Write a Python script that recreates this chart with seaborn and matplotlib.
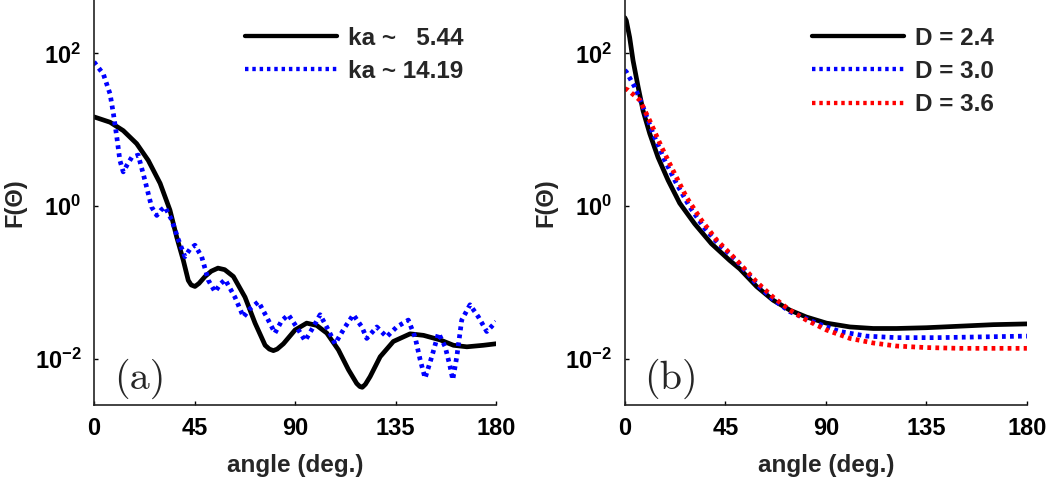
import numpy as np
import pandas as pd
import matplotlib
matplotlib.use("Agg")
import matplotlib.pyplot as plt
import seaborn as sns

# ── Dados (ângulo em graus, log10 de F) ──────────────────────────
# painel (a)
ang_a1 = [0, 7.2, 13.1, 19.1, 24.3, 29.6, 34, 37, 40, 42.2, 43.5, 45.2, 47,
          49.7, 52.5, 55.5, 58.5, 62.4, 67.6, 72.1, 76.6, 78.5, 80.3, 82, 84.8,
          90, 95.2, 99.7, 104.2, 109.4, 113.9, 117.6, 119, 120.1, 121.5,
          123.6, 128.1, 134, 141.5, 147.5, 155, 160.9, 166.9, 174.3, 180]
log_a1 = [1.17, 1.10, 0.99, 0.82, 0.60, 0.30, -0.05, -0.40, -0.71, -0.97,
          -1.03, -1.05, -1.01, -0.92, -0.85, -0.81, -0.83, -0.92, -1.19,
          -1.53, -1.82, -1.87, -1.89, -1.87, -1.80, -1.62, -1.53, -1.56,
          -1.66, -1.88, -2.14, -2.32, -2.36, -2.37, -2.33, -2.23, -1.97,
          -1.77, -1.67, -1.69, -1.75, -1.82, -1.84, -1.82, -1.80]

ang_a2 = [0, 4.2, 7.2, 8.7, 10.2, 11.6, 13.1, 14.8, 16.9, 19.8, 22.8, 25.8,
          28.1, 30, 31.8, 34.8, 37.8, 40.7, 43, 45.2, 48.2, 51.2, 54.2, 56.5,
          58.7, 63.1, 66.9, 69.9, 73.6, 77.3, 81, 84, 87, 90.7, 94.5, 98.2,
          101.2, 104.9, 107.9, 112.4, 116.1, 119.9, 122.1, 126.6, 131, 135.5,
          140.7, 143.7, 146, 148.2, 151.2, 154.2, 157.2, 159.4, 160.6, 162.4,
          164.6, 168.3, 172.1, 175.8, 180]
log_a2 = [1.89, 1.73, 1.47, 1.21, 0.91, 0.60, 0.45, 0.54, 0.64, 0.67, 0.34,
          -0.01, -0.12, -0.05, -0.01, -0.18, -0.44, -0.66, -0.56, -0.51,
          -0.66, -0.97, -1.12, -1.02, -0.96, -1.19, -1.45, -1.34, -1.25,
          -1.45, -1.66, -1.50, -1.42, -1.58, -1.76, -1.58, -1.42, -1.62,
          -1.80, -1.58, -1.42, -1.58, -1.73, -1.58, -1.71, -1.58, -1.49,
          -1.71, -2.01, -2.25, -1.97, -1.66, -1.84, -2.10, -2.27, -1.97,
          -1.49, -1.29, -1.45, -1.64, -1.51]

# painel (b)
ang_b1 = [0, 0.7, 2.2, 3.7, 6.0, 8.2, 11.2, 14.9, 19.4, 24.6, 31.3, 38.8, 47,
          51.5, 59, 66.4, 73.9, 81.3, 90.3, 100.8, 111.2, 121.7, 135, 150,
          165, 180]
log_b1 = [2.47, 2.43, 2.21, 1.91, 1.56, 1.25, 0.95, 0.64, 0.34, 0.04, -0.23,
          -0.49, -0.71, -0.82, -1.05, -1.23, -1.36, -1.45, -1.53, -1.58,
          -1.60, -1.60, -1.59, -1.57, -1.55, -1.54]

ang_b2 = [0, 0.7, 4.5, 8.2, 12.7, 17.9, 23.1, 29.1, 35.8, 42.5, 50, 59, 66.4,
          73.9, 85.8, 96.3, 108.2, 121.7, 140, 160, 180]
log_b2 = [1.78, 1.76, 1.56, 1.30, 0.95, 0.60, 0.30, -0.01, -0.29, -0.51,
          -0.71, -1.02, -1.22, -1.38, -1.53, -1.64, -1.70, -1.72, -1.72,
          -1.71, -1.70]

ang_b3 = [0, 1.5, 6.7, 11.2, 16.4, 21.6, 27.6, 34.3, 41.1, 48.5, 51.5, 59,
          66.4, 73.9, 81.3, 90.3, 100.8, 111.2, 121.7, 135, 150, 180]
log_b3 = [1.54, 1.52, 1.39, 1.12, 0.78, 0.47, 0.12, -0.18, -0.44, -0.66,
          -0.75, -0.99, -1.19, -1.36, -1.49, -1.62, -1.73, -1.79, -1.83,
          -1.85, -1.86, -1.86]

labels_a = ["ka ~   5.44", "ka ~ 14.19"]
labels_b = ["D = 2.4", "D = 3.0", "D = 3.6"]
xticks = [0, 45, 90, 135, 180]
yticks = [1e-2, 1e0, 1e2]
ytick_labels = [r"$10^{-2}$", r"$10^{0}$", r"$10^{2}$"]


def frame(ang, logv, name):
    return pd.DataFrame({"angle": ang, "F": np.power(10.0, logv), "serie": name})


sns.set_style("ticks")
plt.rcParams["font.family"] = ["Liberation Sans", "DejaVu Sans"]
plt.rcParams["font.weight"] = "bold"
plt.rcParams["mathtext.fontset"] = "custom"
plt.rcParams["mathtext.rm"] = "Liberation Sans:bold"
plt.rcParams["mathtext.bf"] = "Liberation Sans:bold"
plt.rcParams["mathtext.it"] = "Liberation Sans:bold"
plt.rcParams["mathtext.default"] = "rm"

fig = plt.figure(figsize=(10.5, 4.78), dpi=100)
ax_a = fig.add_axes([0.0895, 0.153, 0.383, 0.847])
ax_b = fig.add_axes([0.595, 0.153, 0.383, 0.847])

LW = 3.4
dots = (0.8, 0.9)

df_a = pd.concat([frame(ang_a1, log_a1, labels_a[0]),
                  frame(ang_a2, log_a2, labels_a[1])])
sns.lineplot(data=df_a, x="angle", y="F", hue="serie", style="serie",
             palette=["black", "blue"], dashes=["", dots], ax=ax_a,
             linewidth=LW, sort=False)

df_b = pd.concat([frame(ang_b1, log_b1, labels_b[0]),
                  frame(ang_b2, log_b2, labels_b[1]),
                  frame(ang_b3, log_b3, labels_b[2])])
sns.lineplot(data=df_b, x="angle", y="F", hue="serie", style="serie",
             palette=["black", "blue", "red"], dashes=["", dots, dots],
             ax=ax_b, linewidth=LW, sort=False)

for ax, tag in [(ax_a, "(a)"), (ax_b, "(b)")]:
    ax.set_yscale("log")
    ax.set_xlim(0, 180)
    ax.set_ylim(10 ** -2.6, 10 ** 2.7)
    ax.set_xticks(xticks)
    ax.set_xticklabels([str(t) for t in xticks])
    ax.set_yticks(yticks)
    ax.set_yticklabels(ytick_labels)
    ax.minorticks_off()
    ax.tick_params(direction="in", length=3, width=1, labelsize=17,
                   colors="black", pad=9)
    for s in ["top", "right"]:
        ax.spines[s].set_visible(False)
    for s in ["left", "bottom"]:
        ax.spines[s].set_linewidth(1.2)
        ax.spines[s].set_color("#222222")
    ax.set_xlabel("angle (deg.)", fontsize=17.5, fontweight="bold", labelpad=10)
    ax.set_ylabel("F(Θ)", fontsize=17, fontweight="bold", labelpad=6)
    ax.text(0.115, 0.065, tag, transform=ax.transAxes, fontsize=29,
            family="cmr10", fontweight="normal", ha="center", va="center")
    leg = ax.legend(loc="upper right", bbox_to_anchor=(0.985, 1.0),
                    frameon=False, fontsize=17.5, handlelength=3.8,
                    handletextpad=0.45, labelspacing=0.42, borderaxespad=0.7)
    for line in leg.get_lines():
        line.set_linewidth(3.1)

fig.savefig("out.png", dpi=100)
